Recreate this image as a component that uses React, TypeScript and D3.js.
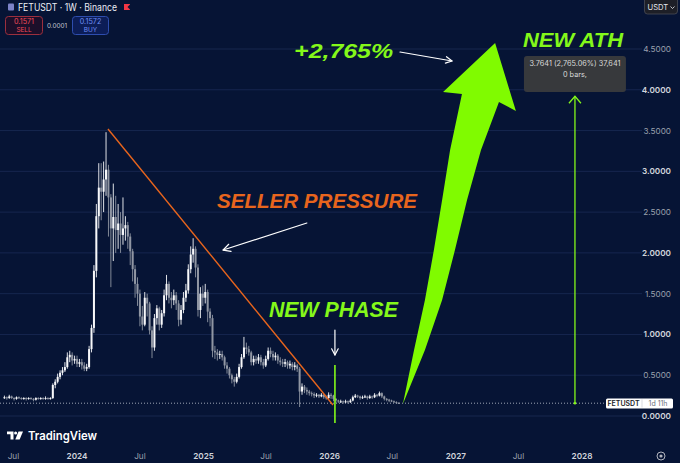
import React from "react";
import * as d3 from "d3";

const W = 680;
const H = 463;

// weekly candles, first week starts 2023-06-05
const START_WEEK = Date.UTC(2023, 5, 5);
const firstOpen = 0.22;
const closes = [
  0.23, 0.22, 0.24, 0.22, 0.21, 0.23, 0.22, 0.21, 0.22, 0.21,
  0.22, 0.21, 0.20, 0.22, 0.21, 0.22, 0.21, 0.22, 0.21, 0.22,
  0.38, 0.42, 0.48, 0.53, 0.56, 0.60, 0.72, 0.75, 0.68, 0.70,
  0.64, 0.66, 0.62, 0.58, 0.60, 0.82, 1.08, 1.78, 2.45, 2.80,
  2.75, 2.90, 3.02, 2.68, 2.30, 2.44, 2.28, 2.36, 2.22, 2.30,
  2.34, 2.20, 2.02, 1.80, 1.62, 1.50, 1.22, 1.12, 1.45, 1.38,
  1.05, 0.84, 1.20, 1.32, 1.12, 1.26, 1.48, 1.62, 1.45, 1.42,
  1.48, 1.38, 1.18, 1.30, 1.45, 1.54, 1.80, 1.98, 2.05, 1.82,
  1.30, 1.50, 1.45, 1.52, 1.28, 1.20, 0.80, 0.78, 0.75, 0.76,
  0.72, 0.62, 0.58, 0.50, 0.45, 0.42, 0.48, 0.60, 0.72, 0.84,
  0.82, 0.78, 0.66, 0.70, 0.68, 0.72, 0.66, 0.62, 0.70, 0.80,
  0.76, 0.72, 0.74, 0.68, 0.66, 0.64, 0.66, 0.62, 0.64, 0.60,
  0.62, 0.58, 0.30, 0.36, 0.32, 0.30, 0.28, 0.27, 0.25, 0.26,
  0.24, 0.26, 0.23, 0.22, 0.26, 0.25, 0.21, 0.19, 0.18, 0.18,
  0.17, 0.18, 0.17, 0.19, 0.23, 0.25, 0.24, 0.22, 0.23, 0.24,
  0.22, 0.24, 0.23, 0.26, 0.25, 0.28, 0.24, 0.21, 0.20, 0.19,
  0.18, 0.17, 0.16, 0.157,
];
const highs = [
  0.25, 0.24, 0.26, 0.25, 0.23, 0.24, 0.24, 0.23, 0.23, 0.23,
  0.23, 0.23, 0.22, 0.23, 0.23, 0.23, 0.23, 0.24, 0.23, 0.23,
  0.40, 0.45, 0.52, 0.56, 0.60, 0.66, 0.78, 0.80, 0.78, 0.74,
  0.74, 0.70, 0.70, 0.66, 0.64, 0.86, 1.12, 1.85, 2.60, 3.10,
  3.10, 3.12, 3.48, 3.08, 2.72, 2.85, 2.70, 2.60, 2.50, 2.68,
  2.45, 2.38, 2.24, 2.05, 1.85, 1.70, 1.55, 1.35, 1.52, 1.50,
  1.40, 1.10, 1.25, 1.36, 1.34, 1.30, 1.55, 1.73, 1.65, 1.52,
  1.55, 1.52, 1.42, 1.36, 1.52, 1.62, 1.86, 2.08, 2.18, 2.08,
  1.86, 1.58, 1.60, 1.62, 1.55, 1.32, 1.24, 0.86, 0.82, 0.80,
  0.80, 0.74, 0.66, 0.60, 0.52, 0.48, 0.52, 0.64, 0.76, 0.97,
  0.90, 0.86, 0.80, 0.74, 0.74, 0.76, 0.75, 0.70, 0.74, 0.84,
  0.84, 0.80, 0.78, 0.76, 0.72, 0.70, 0.70, 0.68, 0.68, 0.66,
  0.66, 0.64, 0.60, 0.40, 0.38, 0.35, 0.32, 0.30, 0.29, 0.28,
  0.27, 0.28, 0.27, 0.25, 0.29, 0.28, 0.26, 0.22, 0.20, 0.20,
  0.19, 0.20, 0.19, 0.21, 0.25, 0.27, 0.26, 0.25, 0.25, 0.26,
  0.25, 0.26, 0.25, 0.28, 0.27, 0.30, 0.29, 0.25, 0.22, 0.21,
  0.20, 0.19, 0.18, 0.17,
];
const lows = [
  0.21, 0.20, 0.21, 0.21, 0.19, 0.20, 0.21, 0.20, 0.20, 0.19,
  0.20, 0.20, 0.18, 0.19, 0.20, 0.20, 0.20, 0.20, 0.20, 0.20,
  0.21, 0.34, 0.40, 0.45, 0.50, 0.54, 0.58, 0.66, 0.62, 0.64,
  0.60, 0.60, 0.57, 0.55, 0.55, 0.58, 0.78, 1.02, 1.70, 2.30,
  2.40, 2.50, 2.70, 2.20, 1.58, 1.90, 2.00, 2.05, 2.00, 2.10,
  2.15, 2.05, 1.85, 1.65, 1.45, 1.35, 1.10, 1.05, 1.10, 1.22,
  1.00, 0.71, 0.80, 1.12, 1.05, 1.08, 1.22, 1.42, 1.38, 1.32,
  1.36, 1.30, 1.10, 1.12, 1.26, 1.40, 1.50, 1.75, 1.88, 1.70,
  1.22, 1.20, 1.35, 1.38, 1.15, 1.10, 0.72, 0.70, 0.68, 0.70,
  0.68, 0.58, 0.52, 0.46, 0.40, 0.36, 0.40, 0.46, 0.58, 0.70,
  0.76, 0.74, 0.62, 0.62, 0.64, 0.64, 0.62, 0.58, 0.60, 0.68,
  0.72, 0.68, 0.68, 0.64, 0.62, 0.60, 0.60, 0.58, 0.58, 0.56,
  0.56, 0.54, 0.11, 0.26, 0.28, 0.26, 0.25, 0.24, 0.22, 0.23,
  0.22, 0.23, 0.21, 0.20, 0.21, 0.21, 0.18, 0.16, 0.16, 0.16,
  0.15, 0.16, 0.15, 0.16, 0.18, 0.22, 0.22, 0.20, 0.21, 0.22,
  0.20, 0.21, 0.21, 0.22, 0.23, 0.24, 0.22, 0.19, 0.18, 0.17,
  0.17, 0.16, 0.15, 0.15,
];

const yTickValues = [0, 0.5, 1, 1.5, 2, 2.5, 3, 3.5, 4, 4.5];
const yMajorTicks = [0, 1, 2, 3, 4];
const xTickDates = ["2023-07-01", "2024-01-01", "2024-07-01", "2025-01-01", "2025-07-01", "2026-01-01", "2026-07-01", "2027-01-01", "2027-07-01", "2028-01-01"];
const xTickLabels = ["Jul", "2024", "Jul", "2025", "Jul", "2026", "Jul", "2027", "Jul", "2028"];

const lastPrice = 0.1571;
const measureChange = 3.7641;
const measureWeek = 235.8;

// annotations in [week index, price]
const trendLine = [[42.8, 3.519], [135.8, 0.135]];
const sellerArrow = [[125.0, 2.366], [90.4, 2.035]];
const gainArrow = [[163.5, 4.463], [185.0, 4.353]];
const phaseArrow = [[136.6, 1.054], [136.6, 0.748]];
const phaseLine = [[136.6, 0.625], [136.6, -0.086]];
const bigArrow = [
  [164.7, 0.147], [173.8, 0.809], [180.9, 1.422], [186.2, 2.035], [191.2, 2.648],
  [196.97, 3.261], [204.4, 3.85], [211.4, 3.74], [202.8, 4.573], [181.3, 3.973],
  [189.1, 3.948], [184.2, 3.261], [180.9, 2.648], [177.5, 2.035], [173.8, 1.422],
  [169.3, 0.809], [164.7, 0.147],
];
const labelGain = { text: "+2,765%", at: [140.2, 4.389], width: 99, size: 21 };
const labelAth = { text: "NEW ATH", at: [235.0, 4.524], width: 100, size: 21 };
const labelSeller = { text: "SELLER PRESSURE", at: [129.2, 2.55], width: 200, size: 21 };
const labelPhase = { text: "NEW PHASE", at: [136.0, 1.214], width: 129, size: 22 };

const BG = "#061435";
const GRID = "#16264f";
const GREEN = "#84f81a";
const ORANGE = "#e8651d";

const xScale = d3
  .scaleUtc()
  .domain([new Date(Date.UTC(2024, 0, 1)), new Date(Date.UTC(2028, 0, 1))])
  .range([77, 582]);
const yScale = d3.scaleLinear().domain([0, 4.5]).range([416, 49]);
const xw = (wi: number) => xScale(new Date(START_WEEK + wi * 7 * 864e5));
const pt = (p: number[]) => [xw(p[0]), yScale(p[1])] as [number, number];

function ArrowLine({ a, b, color, width = 1.3, head = 8 }: any) {
  const [x1, y1] = pt(a);
  const [x2, y2] = pt(b);
  const ang = Math.atan2(y2 - y1, x2 - x1);
  const s = (28 * Math.PI) / 180;
  const h1 = [x2 - head * Math.cos(ang - s), y2 - head * Math.sin(ang - s)];
  const h2 = [x2 - head * Math.cos(ang + s), y2 - head * Math.sin(ang + s)];
  return (
    <g stroke={color} strokeWidth={width} fill="none" strokeLinecap="round" strokeLinejoin="round">
      <line x1={x1} y1={y1} x2={x2} y2={y2} />
      <polyline points={`${h1[0]},${h1[1]} ${x2},${y2} ${h2[0]},${h2[1]}`} />
    </g>
  );
}

function Label({ l, color }: any) {
  const [x, y] = pt(l.at);
  return (
    <text
      x={x - l.width / 2}
      y={y}
      fill={color}
      fontFamily="'Liberation Sans', Arial, sans-serif"
      fontWeight="bold"
      fontStyle="italic"
      fontSize={l.size}
      textLength={l.width}
      lengthAdjust="spacingAndGlyphs"
    >
      {l.text}
    </text>
  );
}

export default function App() {
  const candles = closes.map((c, i) => {
    const o = i === 0 ? firstOpen : closes[i - 1];
    return { i, o, c, h: highs[i], l: lows[i] };
  });
  const bodyW = 2.0;
  const priceY = yScale(lastPrice);
  const mx = xw(measureWeek);
  const mTop = yScale(lastPrice + measureChange);
  const mBot = yScale(lastPrice);
  const bigPath = d3.line()(bigArrow.map(pt)) + "Z";
  const ui = "Inter, 'Noto Sans', sans-serif";

  return (
    <svg
      width={W}
      height={H}
      viewBox={`0 0 ${W} ${H}`}
      style={{ position: "fixed", left: 0, top: 0, display: "block" }}
    >
      <rect x={0} y={0} width={W} height={H} fill={BG} />

      {/* grid */}
      {yTickValues.map((v) => (
        <line key={v} x1={0} x2={642} y1={yScale(v)} y2={yScale(v)} stroke={GRID} strokeWidth={1} />
      ))}

      {/* price line */}
      <line x1={0} x2={606} y1={priceY} y2={priceY} stroke="#c5cad6" strokeWidth={0.8} strokeDasharray="1 2" />

      {/* candles */}
      {candles.map((d) => {
        const x = xw(d.i);
        const up = d.c >= d.o;
        const col = up ? "#f7f8fa" : "#9096a3";
        const yt = yScale(Math.max(d.o, d.c));
        const yb = yScale(Math.min(d.o, d.c));
        return (
          <g key={d.i}>
            <line x1={x} x2={x} y1={yScale(d.h)} y2={yScale(d.l)} stroke={col} strokeWidth={0.9} />
            <rect x={x - bodyW / 2} y={yt} width={bodyW} height={Math.max(1, yb - yt)} fill={col} />
          </g>
        );
      })}

      {/* trend line */}
      {(() => {
        const [a, b] = trendLine.map(pt);
        return <line x1={a[0]} y1={a[1]} x2={b[0]} y2={b[1]} stroke={ORANGE} strokeWidth={1.4} />;
      })()}

      {/* new phase vertical line */}
      {(() => {
        const [a, b] = phaseLine.map(pt);
        return <line x1={a[0]} y1={a[1]} x2={b[0]} y2={b[1]} stroke={GREEN} strokeWidth={1.6} />;
      })()}

      {/* measure line */}
      <g stroke={GREEN} strokeWidth={1.3} fill="none">
        <line x1={mx} x2={mx} y1={mTop} y2={mBot} />
        <polyline points={`${mx - 6},${mTop + 7} ${mx},${mTop} ${mx + 6},${mTop + 7}`} />
      </g>
      <circle cx={mx} cy={mBot} r={1.3} fill={GREEN} />

      {/* tooltip */}
      <rect x={mx - 51} y={56} width={102} height={36} rx={3} fill="#3a3b3d" opacity={0.95} />
      <text x={mx} y={66} textAnchor="middle" fill="#d9d9d9" fontFamily={ui} fontSize={7.3}>
        3.7641 (2,765.06%) 37,641
      </text>
      <text x={mx} y={77} textAnchor="middle" fill="#d9d9d9" fontFamily={ui} fontSize={7.3}>
        0 bars,
      </text>

      {/* big green arrow */}
      <path d={bigPath} fill="#80fb00" />

      {/* annotation arrows */}
      <ArrowLine a={sellerArrow[0]} b={sellerArrow[1]} color="#ffffff" width={1.2} head={8} />
      <ArrowLine a={gainArrow[0]} b={gainArrow[1]} color="#ffffff" width={1.2} head={7} />
      <ArrowLine a={phaseArrow[0]} b={phaseArrow[1]} color="#ffffff" width={1.2} head={7} />

      {/* labels */}
      <Label l={labelGain} color={GREEN} />
      <Label l={labelAth} color={GREEN} />
      <Label l={labelSeller} color={ORANGE} />
      <Label l={labelPhase} color={GREEN} />

      {/* y axis labels */}
      {yTickValues.map((v) => {
        const major = yMajorTicks.includes(v);
        return (
          <text
            key={v}
            x={671}
            y={yScale(v) + 3}
            textAnchor="end"
            fill={major ? "#d1d4dc" : "#9aa0ad"}
            fontFamily={ui}
            fontWeight={major ? 600 : 400}
            fontSize={8.2}
          >
            {v.toFixed(4)}
          </text>
        );
      })}

      {/* last price tag */}
      <rect x={606} y={398.5} width={67} height={10} rx={1.5} fill="#ffffff" />
      <line x1={642} x2={642} y1={399.5} y2={407.5} stroke="#c9ccd4" strokeWidth={0.7} />
      <text x={623.5} y={406.3} textAnchor="middle" fill="#1b1e27" fontFamily={ui} fontWeight={600} fontSize={7}>
        FETUSDT
      </text>
      <text x={658} y={406.3} textAnchor="middle" fill="#6b6f7a" fontFamily={ui} fontSize={7}>
        1d 11h
      </text>

      {/* x axis labels */}
      {xTickDates.map((d, i) => {
        const year = xTickLabels[i] !== "Jul";
        return (
          <text
            key={d}
            x={xScale(new Date(d + "T00:00:00Z"))}
            y={459}
            textAnchor="middle"
            fill={year ? "#d1d4dc" : "#9aa0ad"}
            fontFamily={ui}
            fontWeight={year ? 600 : 400}
            fontSize={8.2}
          >
            {xTickLabels[i]}
          </text>
        );
      })}

      {/* settings icon */}
      <circle cx={661} cy={456} r={4} fill="none" stroke="#b2b5be" strokeWidth={1} />
      <circle cx={661} cy={456} r={1.6} fill="#b2b5be" />

      {/* TradingView logo */}
      <g fill="#ffffff">
        <path d="M7 431.5 H13.5 V439.5 H10.5 V434.3 H7 Z" />
        <circle cx={15.6} cy={433} r={1.5} />
        <path d="M18.5 431.5 H23 L19.6 439.5 H15.3 Z" />
      </g>
      <text x={28} y={440} fill="#ffffff" fontFamily={ui} fontWeight={600} fontSize={12} textLength={69} lengthAdjust="spacingAndGlyphs">
        TradingView
      </text>

      {/* header */}
      <rect x={8} y={3.5} width={6} height={7} rx={1} fill="#7c83c8" />
      <text x={18} y={11} fill="#eceff5" fontFamily={ui} fontSize={10} textLength={99} lengthAdjust="spacingAndGlyphs">
        FETUSDT · 1W · Binance
      </text>
      <path d="M124 4 H130 V10 H124 Z" fill="#f23645" />
      <path d="M127.5 7 L130 4.5 V9.5 Z" fill={BG} />

      <rect x={5.5} y={16.5} width={37} height={18} rx={3} fill="#1c0f2a" stroke="#9c2f3e" strokeWidth={1} />
      <text x={24} y={24} textAnchor="middle" fill="#f04a57" fontFamily={ui} fontSize={7.2}>0.1571</text>
      <text x={24} y={31.5} textAnchor="middle" fill="#f04a57" fontFamily={ui} fontSize={6.4}>SELL</text>
      <text x={57} y={28} textAnchor="middle" fill="#c3c6ce" fontFamily={ui} fontSize={6.4}>0.0001</text>
      <rect x={72.5} y={16.5} width={36} height={18} rx={3} fill="#0c1d57" stroke="#2e4dae" strokeWidth={1} />
      <text x={90.5} y={24} textAnchor="middle" fill="#6f8ef5" fontFamily={ui} fontSize={7.2}>0.1572</text>
      <text x={90.5} y={31.5} textAnchor="middle" fill="#6f8ef5" fontFamily={ui} fontSize={6.4}>BUY</text>

      {/* currency selector */}
      <rect x={644.5} y={-3} width={33} height={17} rx={3} fill="#1d1f27" stroke="#4a4d57" strokeWidth={0.8} />
      <text x={647.5} y={10} fill="#e6e8ee" fontFamily={ui} fontSize={7.6}>USDT</text>
      <polyline points="670.5,6.5 672.5,8.5 674.5,6.5" fill="none" stroke="#e6e8ee" strokeWidth={0.8} />
    </svg>
  );
}
